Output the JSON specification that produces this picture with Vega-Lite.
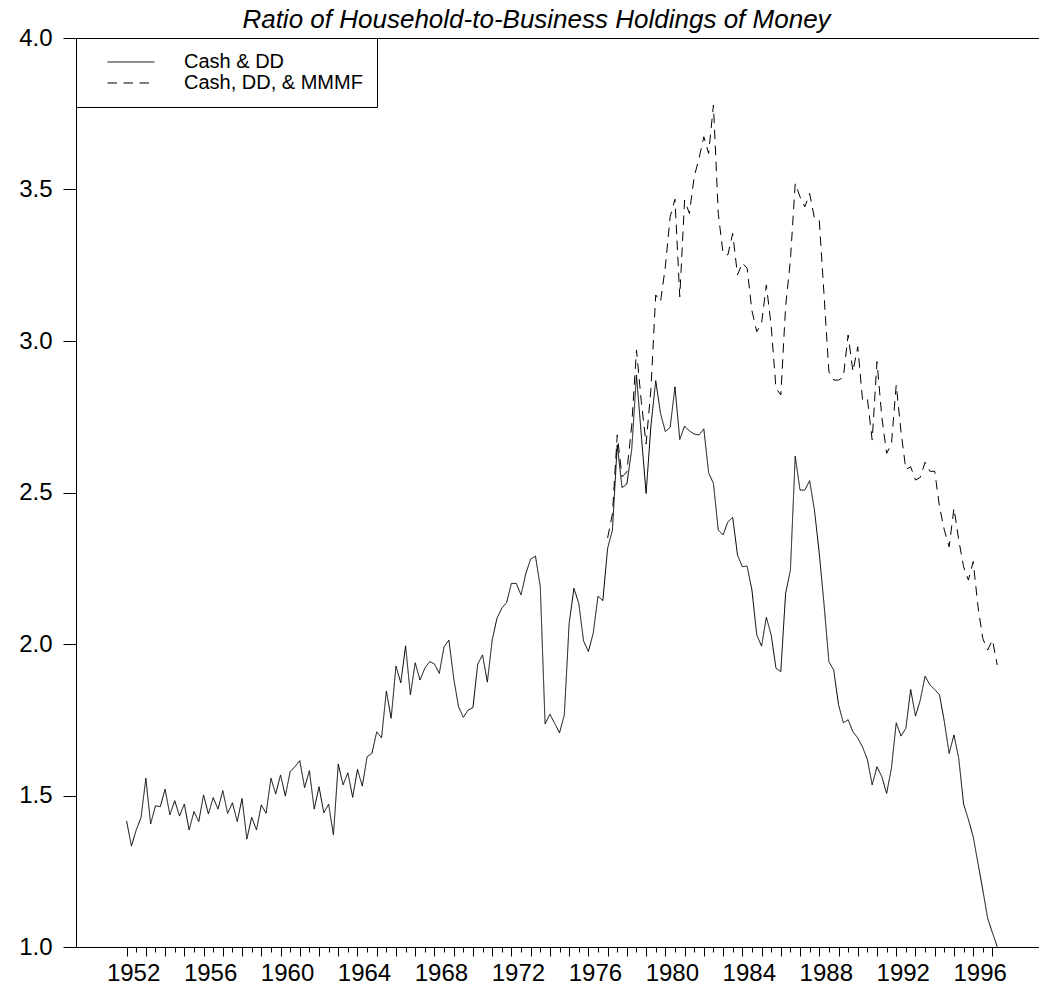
{
  "$schema": "https://vega.github.io/schema/vega-lite/v6.json",
  "autosize": {"type": "none"},
  "padding": {"left": 76, "top": 38, "right": 0, "bottom": 49},
  "width": 963,
  "height": 909,
  "background": "white",
  "config": {
    "view": {"stroke": null},
    "font": "Liberation Sans",
    "axis": {"grid": false, "domainColor": "black", "tickColor": "black", "labelColor": "black", "labelFont": "Liberation Sans", "labelFontSize": 24, "domainWidth": 1, "tickWidth": 1},
    "title": {"font": "Liberation Sans", "fontStyle": "italic", "fontWeight": "normal", "fontSize": 26, "color": "black", "frame": "group", "anchor": "middle", "offset": 8, "dy": 15, "dx": -21},
    "legend": {
      "orient": "none", "legendX": 0, "legendY": 0,
      "strokeColor": "black", "fillColor": "white", "padding": 14,
      "symbolType": "M-3.13,0H3.13", "symbolSize": 225, "symbolStrokeWidth": 1, "symbolStrokeColor": "black",
      "symbolOffset": 31, "labelOffset": 43, "rowPadding": 1,
      "labelFont": "Liberation Sans", "labelFontSize": 20, "labelColor": "black", "labelLimit": 0
    }
  },
  "title": {"text": "Ratio of Household-to-Business Holdings of Money"},
  "data": {"values": [
    {"t":1952.00,"s":"Cash & DD","v":1.416},{"t":1952.25,"s":"Cash & DD","v":1.333},{"t":1952.50,"s":"Cash & DD","v":1.386},{"t":1952.75,"s":"Cash & DD","v":1.427},
    {"t":1953.00,"s":"Cash & DD","v":1.557},{"t":1953.25,"s":"Cash & DD","v":1.406},{"t":1953.50,"s":"Cash & DD","v":1.466},{"t":1953.75,"s":"Cash & DD","v":1.463},
    {"t":1954.00,"s":"Cash & DD","v":1.521},{"t":1954.25,"s":"Cash & DD","v":1.436},{"t":1954.50,"s":"Cash & DD","v":1.483},{"t":1954.75,"s":"Cash & DD","v":1.432},
    {"t":1955.00,"s":"Cash & DD","v":1.472},{"t":1955.25,"s":"Cash & DD","v":1.386},{"t":1955.50,"s":"Cash & DD","v":1.447},{"t":1955.75,"s":"Cash & DD","v":1.414},
    {"t":1956.00,"s":"Cash & DD","v":1.502},{"t":1956.25,"s":"Cash & DD","v":1.439},{"t":1956.50,"s":"Cash & DD","v":1.493},{"t":1956.75,"s":"Cash & DD","v":1.455},
    {"t":1957.00,"s":"Cash & DD","v":1.516},{"t":1957.25,"s":"Cash & DD","v":1.441},{"t":1957.50,"s":"Cash & DD","v":1.476},{"t":1957.75,"s":"Cash & DD","v":1.414},
    {"t":1958.00,"s":"Cash & DD","v":1.490},{"t":1958.25,"s":"Cash & DD","v":1.356},{"t":1958.50,"s":"Cash & DD","v":1.428},{"t":1958.75,"s":"Cash & DD","v":1.386},
    {"t":1959.00,"s":"Cash & DD","v":1.469},{"t":1959.25,"s":"Cash & DD","v":1.441},{"t":1959.50,"s":"Cash & DD","v":1.557},{"t":1959.75,"s":"Cash & DD","v":1.505},
    {"t":1960.00,"s":"Cash & DD","v":1.568},{"t":1960.25,"s":"Cash & DD","v":1.498},{"t":1960.50,"s":"Cash & DD","v":1.579},{"t":1960.75,"s":"Cash & DD","v":1.595},
    {"t":1961.00,"s":"Cash & DD","v":1.615},{"t":1961.25,"s":"Cash & DD","v":1.526},{"t":1961.50,"s":"Cash & DD","v":1.582},{"t":1961.75,"s":"Cash & DD","v":1.455},
    {"t":1962.00,"s":"Cash & DD","v":1.529},{"t":1962.25,"s":"Cash & DD","v":1.443},{"t":1962.50,"s":"Cash & DD","v":1.471},{"t":1962.75,"s":"Cash & DD","v":1.370},
    {"t":1963.00,"s":"Cash & DD","v":1.604},{"t":1963.25,"s":"Cash & DD","v":1.535},{"t":1963.50,"s":"Cash & DD","v":1.575},{"t":1963.75,"s":"Cash & DD","v":1.494},
    {"t":1964.00,"s":"Cash & DD","v":1.586},{"t":1964.25,"s":"Cash & DD","v":1.531},{"t":1964.50,"s":"Cash & DD","v":1.628},{"t":1964.75,"s":"Cash & DD","v":1.639},
    {"t":1965.00,"s":"Cash & DD","v":1.71},{"t":1965.25,"s":"Cash & DD","v":1.69},{"t":1965.50,"s":"Cash & DD","v":1.845},{"t":1965.75,"s":"Cash & DD","v":1.755},
    {"t":1966.00,"s":"Cash & DD","v":1.927},{"t":1966.25,"s":"Cash & DD","v":1.872},{"t":1966.50,"s":"Cash & DD","v":1.994},{"t":1966.75,"s":"Cash & DD","v":1.832},
    {"t":1967.00,"s":"Cash & DD","v":1.938},{"t":1967.25,"s":"Cash & DD","v":1.881},{"t":1967.50,"s":"Cash & DD","v":1.920},{"t":1967.75,"s":"Cash & DD","v":1.942},
    {"t":1968.00,"s":"Cash & DD","v":1.934},{"t":1968.25,"s":"Cash & DD","v":1.903},{"t":1968.50,"s":"Cash & DD","v":1.991},{"t":1968.75,"s":"Cash & DD","v":2.013},
    {"t":1969.00,"s":"Cash & DD","v":1.887},{"t":1969.25,"s":"Cash & DD","v":1.793},{"t":1969.50,"s":"Cash & DD","v":1.758},{"t":1969.75,"s":"Cash & DD","v":1.782},
    {"t":1970.00,"s":"Cash & DD","v":1.790},{"t":1970.25,"s":"Cash & DD","v":1.934},{"t":1970.50,"s":"Cash & DD","v":1.964},{"t":1970.75,"s":"Cash & DD","v":1.874},
    {"t":1971.00,"s":"Cash & DD","v":2.013},{"t":1971.25,"s":"Cash & DD","v":2.085},{"t":1971.50,"s":"Cash & DD","v":2.118},{"t":1971.75,"s":"Cash & DD","v":2.137},
    {"t":1972.00,"s":"Cash & DD","v":2.200},{"t":1972.25,"s":"Cash & DD","v":2.200},{"t":1972.50,"s":"Cash & DD","v":2.162},{"t":1972.75,"s":"Cash & DD","v":2.233},
    {"t":1973.00,"s":"Cash & DD","v":2.28},{"t":1973.25,"s":"Cash & DD","v":2.29},{"t":1973.50,"s":"Cash & DD","v":2.189},{"t":1973.75,"s":"Cash & DD","v":1.736},
    {"t":1974.00,"s":"Cash & DD","v":1.768},{"t":1974.25,"s":"Cash & DD","v":1.738},{"t":1974.50,"s":"Cash & DD","v":1.707},{"t":1974.75,"s":"Cash & DD","v":1.766},
    {"t":1975.00,"s":"Cash & DD","v":2.068},{"t":1975.25,"s":"Cash & DD","v":2.184},{"t":1975.50,"s":"Cash & DD","v":2.134},{"t":1975.75,"s":"Cash & DD","v":2.010},
    {"t":1976.00,"s":"Cash & DD","v":1.975},{"t":1976.25,"s":"Cash & DD","v":2.035},{"t":1976.50,"s":"Cash & DD","v":2.158},{"t":1976.75,"s":"Cash & DD","v":2.143},
    {"t":1977.00,"s":"Cash & DD","v":2.316},{"t":1977.25,"s":"Cash & DD","v":2.376},{"t":1977.50,"s":"Cash & DD","v":2.657},{"t":1977.75,"s":"Cash & DD","v":2.516},
    {"t":1978.00,"s":"Cash & DD","v":2.528},{"t":1978.25,"s":"Cash & DD","v":2.64},{"t":1978.50,"s":"Cash & DD","v":2.888},{"t":1978.75,"s":"Cash & DD","v":2.69},
    {"t":1979.00,"s":"Cash & DD","v":2.497},{"t":1979.25,"s":"Cash & DD","v":2.72},{"t":1979.50,"s":"Cash & DD","v":2.869},{"t":1979.75,"s":"Cash & DD","v":2.761},
    {"t":1980.00,"s":"Cash & DD","v":2.701},{"t":1980.25,"s":"Cash & DD","v":2.715},{"t":1980.50,"s":"Cash & DD","v":2.849},{"t":1980.75,"s":"Cash & DD","v":2.675},
    {"t":1981.00,"s":"Cash & DD","v":2.719},{"t":1981.25,"s":"Cash & DD","v":2.703},{"t":1981.50,"s":"Cash & DD","v":2.693},{"t":1981.75,"s":"Cash & DD","v":2.690},
    {"t":1982.00,"s":"Cash & DD","v":2.710},{"t":1982.25,"s":"Cash & DD","v":2.565},{"t":1982.50,"s":"Cash & DD","v":2.530},{"t":1982.75,"s":"Cash & DD","v":2.376},
    {"t":1983.00,"s":"Cash & DD","v":2.360},{"t":1983.25,"s":"Cash & DD","v":2.403},{"t":1983.50,"s":"Cash & DD","v":2.418},{"t":1983.75,"s":"Cash & DD","v":2.294},
    {"t":1984.00,"s":"Cash & DD","v":2.255},{"t":1984.25,"s":"Cash & DD","v":2.257},{"t":1984.50,"s":"Cash & DD","v":2.178},{"t":1984.75,"s":"Cash & DD","v":2.03},
    {"t":1985.00,"s":"Cash & DD","v":1.993},{"t":1985.25,"s":"Cash & DD","v":2.088},{"t":1985.50,"s":"Cash & DD","v":2.030},{"t":1985.75,"s":"Cash & DD","v":1.920},
    {"t":1986.00,"s":"Cash & DD","v":1.909},{"t":1986.25,"s":"Cash & DD","v":2.167},{"t":1986.50,"s":"Cash & DD","v":2.244},{"t":1986.75,"s":"Cash & DD","v":2.620},
    {"t":1987.00,"s":"Cash & DD","v":2.508},{"t":1987.25,"s":"Cash & DD","v":2.508},{"t":1987.50,"s":"Cash & DD","v":2.539},{"t":1987.75,"s":"Cash & DD","v":2.442},
    {"t":1988.00,"s":"Cash & DD","v":2.299},{"t":1988.25,"s":"Cash & DD","v":2.129},{"t":1988.50,"s":"Cash & DD","v":1.942},{"t":1988.75,"s":"Cash & DD","v":1.914},
    {"t":1989.00,"s":"Cash & DD","v":1.80},{"t":1989.25,"s":"Cash & DD","v":1.74},{"t":1989.50,"s":"Cash & DD","v":1.75},{"t":1989.75,"s":"Cash & DD","v":1.71},
    {"t":1990.00,"s":"Cash & DD","v":1.69},{"t":1990.25,"s":"Cash & DD","v":1.66},{"t":1990.50,"s":"Cash & DD","v":1.619},{"t":1990.75,"s":"Cash & DD","v":1.535},
    {"t":1991.00,"s":"Cash & DD","v":1.595},{"t":1991.25,"s":"Cash & DD","v":1.562},{"t":1991.50,"s":"Cash & DD","v":1.507},{"t":1991.75,"s":"Cash & DD","v":1.590},
    {"t":1992.00,"s":"Cash & DD","v":1.740},{"t":1992.25,"s":"Cash & DD","v":1.696},{"t":1992.50,"s":"Cash & DD","v":1.722},{"t":1992.75,"s":"Cash & DD","v":1.850},
    {"t":1993.00,"s":"Cash & DD","v":1.762},{"t":1993.25,"s":"Cash & DD","v":1.815},{"t":1993.50,"s":"Cash & DD","v":1.894},{"t":1993.75,"s":"Cash & DD","v":1.865},
    {"t":1994.00,"s":"Cash & DD","v":1.850},{"t":1994.25,"s":"Cash & DD","v":1.832},{"t":1994.50,"s":"Cash & DD","v":1.744},{"t":1994.75,"s":"Cash & DD","v":1.639},
    {"t":1995.00,"s":"Cash & DD","v":1.700},{"t":1995.25,"s":"Cash & DD","v":1.622},{"t":1995.50,"s":"Cash & DD","v":1.472},{"t":1995.75,"s":"Cash & DD","v":1.421},
    {"t":1996.00,"s":"Cash & DD","v":1.364},{"t":1996.25,"s":"Cash & DD","v":1.276},{"t":1996.50,"s":"Cash & DD","v":1.188},{"t":1996.75,"s":"Cash & DD","v":1.095},
    {"t":1997.00,"s":"Cash & DD","v":1.047},{"t":1997.25,"s":"Cash & DD","v":1.001},
    {"t":1977.00,"s":"Cash, DD, & MMMF","v":2.35},{"t":1977.25,"s":"Cash, DD, & MMMF","v":2.43},{"t":1977.50,"s":"Cash, DD, & MMMF","v":2.69},{"t":1977.75,"s":"Cash, DD, & MMMF","v":2.552},
    {"t":1978.00,"s":"Cash, DD, & MMMF","v":2.568},{"t":1978.25,"s":"Cash, DD, & MMMF","v":2.72},{"t":1978.50,"s":"Cash, DD, & MMMF","v":2.97},{"t":1978.75,"s":"Cash, DD, & MMMF","v":2.80},
    {"t":1979.00,"s":"Cash, DD, & MMMF","v":2.66},{"t":1979.25,"s":"Cash, DD, & MMMF","v":2.84},{"t":1979.50,"s":"Cash, DD, & MMMF","v":3.152},{"t":1979.75,"s":"Cash, DD, & MMMF","v":3.130},
    {"t":1980.00,"s":"Cash, DD, & MMMF","v":3.245},{"t":1980.25,"s":"Cash, DD, & MMMF","v":3.41},{"t":1980.50,"s":"Cash, DD, & MMMF","v":3.468},{"t":1980.75,"s":"Cash, DD, & MMMF","v":3.146},
    {"t":1981.00,"s":"Cash, DD, & MMMF","v":3.465},{"t":1981.25,"s":"Cash, DD, & MMMF","v":3.421},{"t":1981.50,"s":"Cash, DD, & MMMF","v":3.542},{"t":1981.75,"s":"Cash, DD, & MMMF","v":3.603},
    {"t":1982.00,"s":"Cash, DD, & MMMF","v":3.674},{"t":1982.25,"s":"Cash, DD, & MMMF","v":3.619},{"t":1982.50,"s":"Cash, DD, & MMMF","v":3.779},{"t":1982.75,"s":"Cash, DD, & MMMF","v":3.421},
    {"t":1983.00,"s":"Cash, DD, & MMMF","v":3.289},{"t":1983.25,"s":"Cash, DD, & MMMF","v":3.284},{"t":1983.50,"s":"Cash, DD, & MMMF","v":3.355},{"t":1983.75,"s":"Cash, DD, & MMMF","v":3.218},
    {"t":1984.00,"s":"Cash, DD, & MMMF","v":3.258},{"t":1984.25,"s":"Cash, DD, & MMMF","v":3.240},{"t":1984.50,"s":"Cash, DD, & MMMF","v":3.10},{"t":1984.75,"s":"Cash, DD, & MMMF","v":3.031},
    {"t":1985.00,"s":"Cash, DD, & MMMF","v":3.058},{"t":1985.25,"s":"Cash, DD, & MMMF","v":3.185},{"t":1985.50,"s":"Cash, DD, & MMMF","v":3.05},{"t":1985.75,"s":"Cash, DD, & MMMF","v":2.844},
    {"t":1986.00,"s":"Cash, DD, & MMMF","v":2.822},{"t":1986.25,"s":"Cash, DD, & MMMF","v":3.113},{"t":1986.50,"s":"Cash, DD, & MMMF","v":3.267},{"t":1986.75,"s":"Cash, DD, & MMMF","v":3.520},
    {"t":1987.00,"s":"Cash, DD, & MMMF","v":3.476},{"t":1987.25,"s":"Cash, DD, & MMMF","v":3.443},{"t":1987.50,"s":"Cash, DD, & MMMF","v":3.487},{"t":1987.75,"s":"Cash, DD, & MMMF","v":3.405},
    {"t":1988.00,"s":"Cash, DD, & MMMF","v":3.399},{"t":1988.25,"s":"Cash, DD, & MMMF","v":3.15},{"t":1988.50,"s":"Cash, DD, & MMMF","v":2.899},{"t":1988.75,"s":"Cash, DD, & MMMF","v":2.871},
    {"t":1989.00,"s":"Cash, DD, & MMMF","v":2.871},{"t":1989.25,"s":"Cash, DD, & MMMF","v":2.88},{"t":1989.50,"s":"Cash, DD, & MMMF","v":3.020},{"t":1989.75,"s":"Cash, DD, & MMMF","v":2.899},
    {"t":1990.00,"s":"Cash, DD, & MMMF","v":2.981},{"t":1990.25,"s":"Cash, DD, & MMMF","v":2.805},{"t":1990.50,"s":"Cash, DD, & MMMF","v":2.810},{"t":1990.75,"s":"Cash, DD, & MMMF","v":2.673},
    {"t":1991.00,"s":"Cash, DD, & MMMF","v":2.932},{"t":1991.25,"s":"Cash, DD, & MMMF","v":2.75},{"t":1991.50,"s":"Cash, DD, & MMMF","v":2.629},{"t":1991.75,"s":"Cash, DD, & MMMF","v":2.66},
    {"t":1992.00,"s":"Cash, DD, & MMMF","v":2.855},{"t":1992.25,"s":"Cash, DD, & MMMF","v":2.70},{"t":1992.50,"s":"Cash, DD, & MMMF","v":2.576},{"t":1992.75,"s":"Cash, DD, & MMMF","v":2.585},
    {"t":1993.00,"s":"Cash, DD, & MMMF","v":2.541},{"t":1993.25,"s":"Cash, DD, & MMMF","v":2.55},{"t":1993.50,"s":"Cash, DD, & MMMF","v":2.60},{"t":1993.75,"s":"Cash, DD, & MMMF","v":2.57},
    {"t":1994.00,"s":"Cash, DD, & MMMF","v":2.57},{"t":1994.25,"s":"Cash, DD, & MMMF","v":2.453},{"t":1994.50,"s":"Cash, DD, & MMMF","v":2.376},{"t":1994.75,"s":"Cash, DD, & MMMF","v":2.321},
    {"t":1995.00,"s":"Cash, DD, & MMMF","v":2.448},{"t":1995.25,"s":"Cash, DD, & MMMF","v":2.343},{"t":1995.50,"s":"Cash, DD, & MMMF","v":2.255},{"t":1995.75,"s":"Cash, DD, & MMMF","v":2.211},
    {"t":1996.00,"s":"Cash, DD, & MMMF","v":2.272},{"t":1996.25,"s":"Cash, DD, & MMMF","v":2.123},{"t":1996.50,"s":"Cash, DD, & MMMF","v":2.018},{"t":1996.75,"s":"Cash, DD, & MMMF","v":1.980},
    {"t":1997.00,"s":"Cash, DD, & MMMF","v":2.013},{"t":1997.25,"s":"Cash, DD, & MMMF","v":1.931}
  ]},
  "mark": {"type": "line", "color": "black", "strokeWidth": 1, "strokeCap": "butt", "clip": true},
  "encoding": {
    "x": {
      "field": "t", "type": "quantitative",
      "scale": {"domain": [1949.37, 1999.42], "nice": false, "zero": false},
      "axis": {
        "title": null,
        "values": [1952,1952.5,1953,1953.5,1954,1954.5,1955,1955.5,1956,1956.5,1957,1957.5,1958,1958.5,1959,1959.5,1960,1960.5,1961,1961.5,1962,1962.5,1963,1963.5,1964,1964.5,1965,1965.5,1966,1966.5,1967,1967.5,1968,1968.5,1969,1969.5,1970,1970.5,1971,1971.5,1972,1972.5,1973,1973.5,1974,1974.5,1975,1975.5,1976,1976.5,1977,1977.5,1978,1978.5,1979,1979.5,1980,1980.5,1981,1981.5,1982,1982.5,1983,1983.5,1984,1984.5,1985,1985.5,1986,1986.5,1987,1987.5,1988,1988.5,1989,1989.5,1990,1990.5,1991,1991.5,1992,1992.5,1993,1993.5,1994,1994.5,1995,1995.5,1996,1996.5,1997],
        "labelExpr": "datum.value % 4 === 0 ? '' + datum.value : ''",
        "labelOverlap": false, "labelFlush": false, "labelBound": false,
        "tickSize": {"condition": {"test": "datum.value % 1 === 0", "value": 9}, "value": 5},
        "labelPadding": 5, "labelOffset": 6.5
      }
    },
    "y": {
      "field": "v", "type": "quantitative",
      "scale": {"domain": [1, 4], "nice": false, "zero": false},
      "axis": {
        "title": null, "values": [1, 1.5, 2, 2.5, 3, 3.5, 4], "format": ".1f",
        "tickSize": 13, "labelPadding": 11,
        "grid": true, "gridColor": "black", "gridWidth": 1,
        "gridOpacity": {"condition": {"test": "datum.value === 4", "value": 1}, "value": 0}
      }
    },
    "strokeDash": {
      "field": "s", "type": "nominal",
      "scale": {"domain": ["Cash & DD", "Cash, DD, & MMMF"], "range": [[1, 0], [9.5, 6.5]]},
      "legend": {"title": null}
    }
  }
}
